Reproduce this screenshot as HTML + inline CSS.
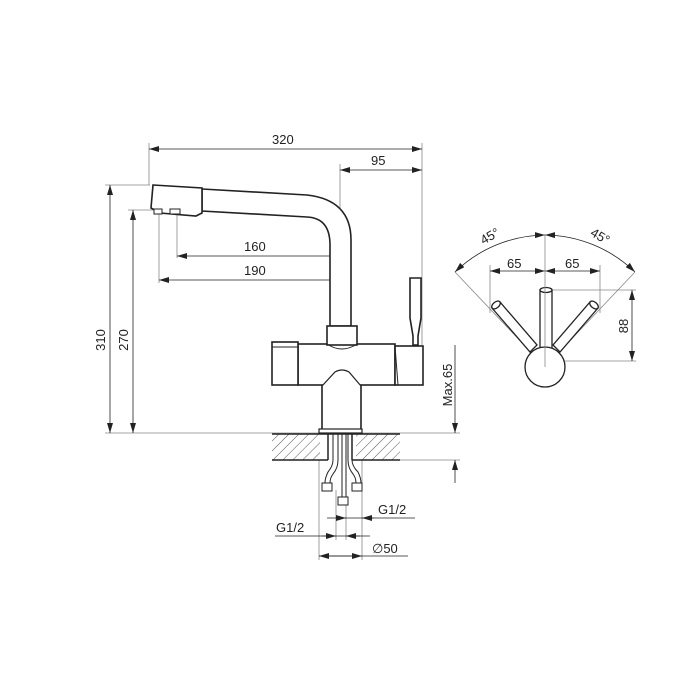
<!DOCTYPE html>
<html><head><style>body{margin:0;background:#fff}svg{display:block}text{font-family:"Liberation Sans",sans-serif;fill:#222}</style></head>
<body>
<svg width="700" height="700" viewBox="0 0 700 700" xmlns="http://www.w3.org/2000/svg">
<defs>
<marker id="a" viewBox="0 0 10 6" refX="10" refY="3" markerWidth="10" markerHeight="6" orient="auto-start-reverse" markerUnits="userSpaceOnUse"><path d="M0,0L10,3L0,6z" fill="#222"/></marker>
<pattern id="h" width="7" height="7" patternUnits="userSpaceOnUse" patternTransform="rotate(45)"><line x1="0" y1="0" x2="0" y2="7" stroke="#555" stroke-width="1"/></pattern>
</defs>
<g stroke="#888" stroke-width="0.8" fill="none">
<line x1="149" y1="143" x2="149" y2="185"/><line x1="422" y1="143" x2="422" y2="345"/>
<line x1="340" y1="164" x2="340" y2="326"/>
<line x1="105" y1="185" x2="150" y2="185"/><line x1="128" y1="210" x2="156" y2="210"/>
<line x1="105" y1="433" x2="460" y2="433"/><line x1="400" y1="460" x2="460" y2="460"/>
<line x1="177" y1="213" x2="177" y2="258"/><line x1="159" y1="213" x2="159" y2="283"/>
<line x1="319" y1="460" x2="319" y2="560"/><line x1="362" y1="460" x2="362" y2="560"/>
<line x1="336" y1="490" x2="336" y2="540"/><line x1="346" y1="505" x2="346" y2="540"/>
</g>
<g stroke="#222" stroke-width="0.8" fill="none">
<line x1="149" y1="149" x2="422" y2="149" marker-start="url(#a)" marker-end="url(#a)"/>
<line x1="340" y1="170" x2="422" y2="170" marker-start="url(#a)" marker-end="url(#a)"/>
<line x1="110" y1="185" x2="110" y2="433" marker-start="url(#a)" marker-end="url(#a)"/>
<line x1="133" y1="210" x2="133" y2="433" marker-start="url(#a)" marker-end="url(#a)"/>
<line x1="177" y1="256" x2="340" y2="256" marker-start="url(#a)" marker-end="url(#a)"/>
<line x1="159" y1="280" x2="340" y2="280" marker-start="url(#a)" marker-end="url(#a)"/>
<line x1="455" y1="345" x2="455" y2="433" marker-end="url(#a)"/>
<line x1="455" y1="483" x2="455" y2="460" marker-end="url(#a)"/>
<line x1="327" y1="518" x2="415" y2="518"/>
<line x1="336" y1="518" x2="346" y2="518" marker-end="url(#a)"/>
<line x1="374" y1="518" x2="362" y2="518" marker-end="url(#a)"/>
<line x1="275" y1="536" x2="370" y2="536"/>
<line x1="322" y1="536" x2="336" y2="536" marker-end="url(#a)"/>
<line x1="360" y1="536" x2="346" y2="536" marker-end="url(#a)"/>
<line x1="319" y1="556" x2="408" y2="556"/>
<line x1="319" y1="556" x2="362" y2="556" marker-start="url(#a)" marker-end="url(#a)"/>
</g>
<g font-size="13">
<text x="272" y="144">320</text><text x="371" y="165">95</text>
<text x="244" y="251">160</text><text x="244" y="275">190</text>
<text transform="translate(105,340) rotate(-90)" text-anchor="middle">310</text>
<text transform="translate(128,340) rotate(-90)" text-anchor="middle">270</text>
<text transform="translate(452,385) rotate(-90)" text-anchor="middle">Max.65</text>
<text x="378" y="514">G1/2</text><text x="276" y="532">G1/2</text>
<text x="372" y="553">∅50</text>
<text x="507" y="268">65</text><text x="565" y="268">65</text>
<text transform="translate(628,326) rotate(-90)" text-anchor="middle">88</text>
<text transform="translate(492,240) rotate(-30)" text-anchor="middle">45°</text>
<text transform="translate(598,240) rotate(30)" text-anchor="middle">45°</text>
</g>
<g stroke="#222" stroke-width="1.6" fill="#fff">
<path d="M202,189 L307,195 Q351,200 351,240 L351,326 L330,326 L330,245 Q330,218 307,217 L202,211 Z"/>
<path d="M153,185 L202,188 L202,213 L196,216 L160,213 L151,208 Z"/>
<path d="M154,209h8v5h-8zM170,209h10v5h-10z" stroke-width="1"/>
<path d="M410,278 L421,278 L421,318 L418,336 L418,345 L413,345 L413,336 L410,318 Z"/>
<rect x="322" y="385" width="39" height="47"/>
<rect x="298" y="344" width="97" height="41"/>
<rect x="272" y="342" width="26" height="43"/>
<line x1="272" y1="347" x2="298" y2="347" stroke-width="1"/>
<rect x="395" y="346" width="28" height="39"/>
<path d="M395,346 L398,385" stroke-width="1"/>
<rect x="327" y="326" width="30" height="19"/>
<path d="M327,344 Q342,354 357,344" fill="none" stroke-width="1"/>
<path d="M322,386 L335,372 Q342,368 349,372 L361,386" fill="#fff" stroke-width="1.2"/>
<rect x="319" y="429" width="43" height="4" stroke-width="1.2"/>
</g>
<rect x="272" y="434" width="48" height="26" fill="url(#h)"/>
<rect x="356" y="434" width="44" height="26" fill="url(#h)"/>
<g stroke="#222" stroke-width="1.5" fill="none">
<line x1="272" y1="434" x2="400" y2="434"/><line x1="272" y1="460" x2="328" y2="460"/><line x1="352" y1="460" x2="400" y2="460"/>
<line x1="328" y1="434" x2="328" y2="460"/><line x1="352" y1="434" x2="352" y2="460"/>
</g>
<g stroke="#222" stroke-width="1" fill="#fff">
<path d="M333,434 V460 Q333,466 328,472 Q325,478 325,483 M338,434 V460 Q338,468 333,474 Q330,478 330,483" fill="none"/>
<path d="M342,434 V497 M346,434 V497" fill="none"/>
<path d="M348,434 V460 Q348,468 353,474 Q356,478 356,483 M352,434 V460 Q352,466 358,472 Q361,478 361,483" fill="none"/>
<rect x="322" y="483" width="10" height="8"/><rect x="338" y="497" width="10" height="8"/><rect x="352" y="483" width="10" height="8"/>
</g>
<g stroke="#888" stroke-width="0.8" fill="none">
<line x1="490" y1="265" x2="490" y2="313"/><line x1="600" y1="265" x2="600" y2="313"/>
<line x1="552" y1="290" x2="636" y2="290"/><line x1="545" y1="361" x2="636" y2="361"/>
<line x1="545" y1="367" x2="455" y2="272"/><line x1="545" y1="367" x2="635" y2="272"/>
</g>
<g stroke="#222" stroke-width="0.8" fill="none">
<path d="M455,272 A132,132 0 0 1 545,235" marker-start="url(#a)" marker-end="url(#a)"/>
<path d="M545,235 A132,132 0 0 1 635,272" marker-start="url(#a)" marker-end="url(#a)"/>
<line x1="490" y1="271" x2="545" y2="271" marker-start="url(#a)" marker-end="url(#a)"/>
<line x1="545" y1="271" x2="600" y2="271" marker-start="url(#a)" marker-end="url(#a)"/>
<line x1="632" y1="290" x2="632" y2="361" marker-start="url(#a)" marker-end="url(#a)"/>
</g>
<g stroke="#222" stroke-width="1.3" fill="#fff">
<path d="M492,308 L500,302 L537,345 L530,352 Z"/>
<path d="M598,308 L590,302 L553,345 L560,352 Z"/>
<ellipse cx="496" cy="305" rx="5" ry="3" transform="rotate(-40 496 305)"/>
<ellipse cx="594" cy="305" rx="5" ry="3" transform="rotate(40 594 305)"/>
<rect x="540" y="290" width="12" height="60"/>
<ellipse cx="546" cy="290" rx="6" ry="2.5"/>
<circle cx="545" cy="367" r="20"/>
</g>
<line x1="545" y1="235" x2="545" y2="367" stroke="#888" stroke-width="0.8"/>
</svg>
</body></html>
